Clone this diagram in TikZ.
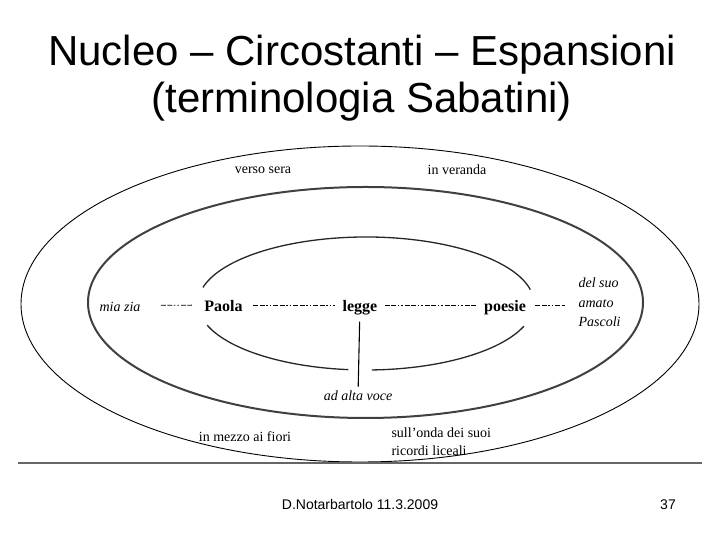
\documentclass[tikz,border=0pt]{standalone}
\usepackage{fontspec}
\setmainfont{Liberation Serif}
\newfontfamily\slidefont{Liberation Sans}
\usetikzlibrary{positioning}
\tikzset{
  ring/.style={draw=black, line width=0.9pt},
  midring/.style={draw=black!75, line width=2pt},
  inring/.style={draw=black!85, line width=1.3pt},
  link/.style={line width=0.8pt, dash pattern=on 5pt off 1.5pt on 5pt off 1.5pt on 1.5pt off 2pt on 1.5pt off 2pt},
  txt/.style={font=\fontsize{14}{18}\selectfont},
  core/.style={font=\fontsize{16}{18}\selectfont\bfseries, text height=14pt, text depth=0pt}
}
\begin{document}
\begin{tikzpicture}[x=1pt, y=1pt]
\useasboundingbox (0,0) rectangle (720,540);
\node (T) at (362,462) [font=\slidefont\fontsize{42}{47}\selectfont, align=center] {Nucleo \textendash{} Circostanti \textendash{} Espansioni\\(terminologia Sabatini)};
% rings
\draw[ring] (360,236) ellipse [x radius=339, y radius=158];
\draw[midring] (365.5,237.5) ellipse [x radius=277.5, y radius=115.5];
\draw[inring] (366,236.5) ++(12:168 and 66.5) arc [start angle=12, end angle=166, x radius=168, y radius=66.5];
\draw[inring] (366,236.5) ++(199:168 and 66.5) arc [start angle=199, end angle=264, x radius=168, y radius=66.5];
\draw[inring] (366,236.5) ++(272:168 and 66.5) arc [start angle=272, end angle=340, x radius=168, y radius=66.5];
% nucleus and circostanti
\node (Z) at (120,234.5) [txt, text height=13pt, text depth=0pt] {\itshape mia zia};
\node (P) at (223.5,235) [core] {Paola};
\node (L) at (360,235) [core] {legge};
\node (S) at (505,235) [core] {poesie};
\node (D) at (575,237.5) [txt, anchor=west, align=left, font=\fontsize{14}{19.5}\selectfont\itshape] {del suo\\amato\\Pascoli};
\node (V) at (358,144) [txt] {\itshape ad alta voce};
% espansioni
\node (VS) at (263,370) [txt] {verso sera};
\node (IV) at (457,370) [txt] {in veranda};
\node (MF) at (245,103) [txt] {in mezzo ai fiori};
\node (OR) at (388,98) [txt, anchor=west, align=left] {sull'onda dei suoi\\ricordi liceali};
\draw[link, shorten <=17pt, shorten >=9pt] (Z) -- (P);
\draw[link, shorten <=7pt, shorten >=4pt] (P) -- (L);
\draw[link, shorten <=4pt, shorten >=4pt] (L) -- (S);
\draw[link, shorten <=6pt, shorten >=10pt] (S) -- (S -| D.west);
\draw[line width=1.1pt, shorten <=6pt, shorten >=1pt] (L) -- (V);
% footer
\coordinate (FL) at (18,77);
\coordinate (FR) at (702,77);
\draw[black!60, line width=1.2pt] (FL) -- (FR);
\node (F) at (360,30) [anchor=base, font=\slidefont\fontsize{14}{16}\selectfont] {D.Notarbartolo 11.3.2009};
\node (N) at (668,30) [anchor=base, font=\slidefont\fontsize{14}{16}\selectfont] {37};
\end{tikzpicture}
\end{document}
